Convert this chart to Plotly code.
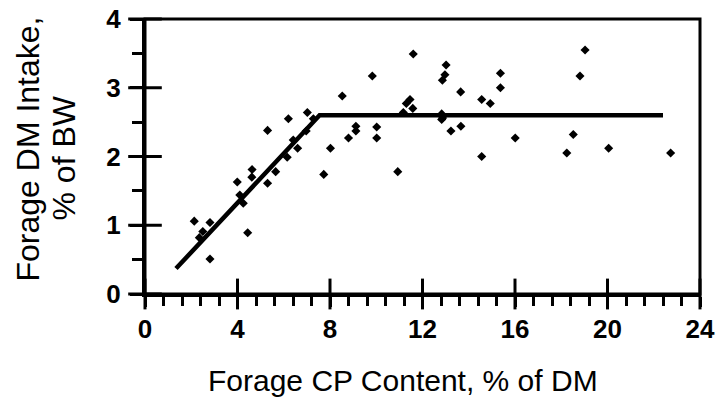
import plotly.graph_objects as go

# Observed data: forage CP content (% of DM) vs forage DM intake (% of BW)
cp_content = [2.13, 2.35, 2.50, 2.81, 2.81, 3.99, 4.10, 4.25, 4.44, 4.63, 4.62,
              5.30, 5.30, 5.65, 6.15, 6.20, 6.41, 6.60, 7.02, 6.97, 7.28, 7.73,
              8.02, 8.53, 8.80, 9.12, 9.12, 9.83, 10.02, 10.02, 10.93, 11.17,
              11.30, 11.46, 11.58, 11.60, 12.83, 12.83, 12.87, 12.86, 12.97,
              13.02, 13.23, 13.65, 13.66, 14.56, 14.56, 14.93, 15.37, 15.37,
              16.01, 18.24, 18.52, 18.81, 19.03, 20.05, 22.73]
dm_intake = [1.06, 0.82, 0.91, 1.04, 0.51, 1.63, 1.44, 1.32, 0.89, 1.81, 1.70,
             2.38, 1.61, 1.78, 1.99, 2.55, 2.24, 2.12, 2.64, 2.37, 2.55, 1.74,
             2.12, 2.88, 2.27, 2.44, 2.37, 3.17, 2.43, 2.27, 1.78, 2.64,
             2.77, 2.83, 2.70, 3.49, 2.62, 2.54, 2.56, 3.11, 3.19,
             3.33, 2.37, 2.94, 2.44, 2.83, 2.00, 2.77, 3.21, 3.00,
             2.27, 2.05, 2.32, 3.17, 3.55, 2.12, 2.05]

# Broken-line (plateau) fit
fit_x = [1.34, 7.55, 22.4]
fit_y = [0.37, 2.60, 2.60]

x_ticks = [0, 4, 8, 12, 16, 20, 24]
y_ticks = [0, 1, 2, 3, 4]

fig = go.Figure()
fig.add_trace(go.Scatter(x=fit_x, y=fit_y, mode="lines",
                         line=dict(color="black", width=4.5),
                         hoverinfo="skip", showlegend=False))
fig.add_trace(go.Scatter(x=cp_content, y=dm_intake, mode="markers",
                         marker=dict(symbol="diamond", size=7, color="black"),
                         showlegend=False))
# crossing major tick marks (through the axis lines), placed at the tick values
fig.add_trace(go.Scatter(x=x_ticks, y=[y_ticks[0]] * len(x_ticks), mode="markers",
                         marker=dict(symbol="line-ns", size=22, color="black",
                                     line=dict(color="black", width=3)),
                         cliponaxis=False, hoverinfo="skip", showlegend=False))
fig.add_trace(go.Scatter(x=[x_ticks[0]] * len(y_ticks), y=y_ticks, mode="markers",
                         marker=dict(symbol="line-ew", size=24, color="black",
                                     line=dict(color="black", width=3)),
                         cliponaxis=False, hoverinfo="skip", showlegend=False))

tickfont_x = dict(family="Liberation Sans, Arial, sans-serif", size=26,
                  color="black", weight="bold")
tickfont_y = dict(family="Liberation Sans, Arial, sans-serif", size=26,
                  color="black", weight="bold")
xtitlefont = dict(family="Liberation Sans, Arial, sans-serif", size=30, color="black")
ytitlefont = dict(family="Liberation Sans, Arial, sans-serif", size=32, color="black")

fig.update_layout(
    width=719, height=416,
    margin=dict(l=145, r=19, t=19, b=122, autoexpand=False),
    paper_bgcolor="white", plot_bgcolor="white",
    xaxis=dict(range=[0, 24], tickvals=x_ticks, ticktext=[str(v) for v in x_ticks],
               ticks="outside", ticklen=10, tickwidth=3, tickcolor="black",
               minor=dict(dtick=0.8, tick0=0, ticks="outside", ticklen=9,
                          tickwidth=3, tickcolor="black", showgrid=False),
               showline=True, linewidth=3, linecolor="black", automargin=False,
               showgrid=False, zeroline=False, tickfont=tickfont_x,
               ticklabelstandoff=0, ticklabeloverflow="allow"),
    yaxis=dict(range=[0, 4], tickvals=y_ticks, ticktext=[str(v) for v in y_ticks],
               ticks="outside", ticklen=12, tickwidth=3, tickcolor="black",
               minor=dict(dtick=0.5, tick0=0, ticks="outside", ticklen=10,
                          tickwidth=3, tickcolor="black", showgrid=False),
               showline=True, linewidth=3, linecolor="black", automargin=False,
               showgrid=False, zeroline=False, tickfont=tickfont_y,
               ticklabelstandoff=4, ticklabeloverflow="allow"),
    shapes=[dict(type="rect", xref="paper", yref="paper", x0=0, y0=0, x1=1, y1=1,
                 line=dict(color="black", width=3), fillcolor="rgba(0,0,0,0)",
                 layer="above")],
    annotations=[
        dict(text="Forage CP Content, % of DM", xref="paper", yref="paper",
             x=0.5, y=0, xshift=-20, yshift=-86, xanchor="center", yanchor="middle",
             showarrow=False, font=xtitlefont),
        dict(text="Forage DM Intake,", xref="paper", yref="paper",
             x=0, y=0.5, xshift=-118, yshift=7, textangle=-90,
             xanchor="center", yanchor="middle", showarrow=False, font=ytitlefont),
        dict(text="% of BW", xref="paper", yref="paper",
             x=0, y=0.5, xshift=-82, yshift=-2, textangle=-90,
             xanchor="center", yanchor="middle", showarrow=False, font=ytitlefont),
    ],
)

fig.write_html("out.html", config={"displayModeBar": False},
               post_script="document.body.style.margin='0';")
